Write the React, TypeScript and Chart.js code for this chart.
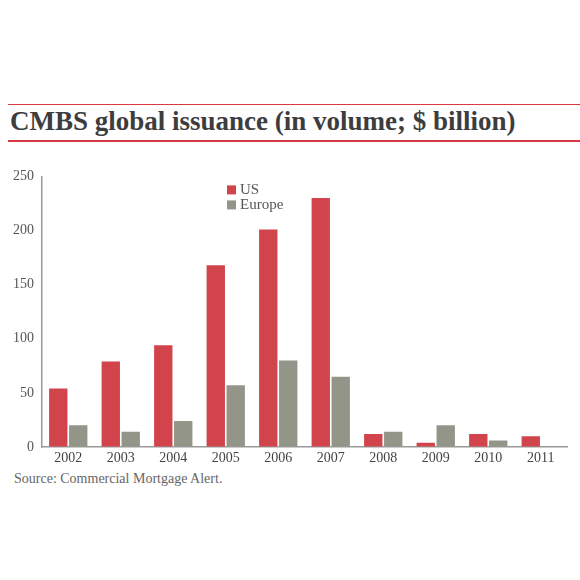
import React, { useEffect, useRef } from "react";
import { Chart, registerables } from "chart.js";

Chart.register(...registerables);

const years = ["2002", "2003", "2004", "2005", "2006", "2007", "2008", "2009", "2010", "2011"];
const usValues = [54, 79, 94, 168, 201, 230, 12, 4, 12, 10];
const europeValues = [20, 14, 24, 57, 80, 65, 14, 20, 6, 0.6];
const yTicks = [0, 50, 100, 150, 200, 250];

const US_COLOR = "#d1444b";
const EU_COLOR = "#939588";
const FONT = "'Liberation Serif', 'Times New Roman', serif";

const legendPlugin = {
  id: "customLegend",
  afterDraw(chart: any) {
    const { ctx, chartArea } = chart;
    const x = chartArea.left + 185;
    let y = chartArea.top + 9;
    ctx.save();
    chart.data.datasets.forEach((ds: any) => {
      ctx.fillStyle = ds.backgroundColor;
      ctx.fillRect(x, y, 9, 9);
      ctx.fillStyle = "#555555";
      ctx.font = `15px ${FONT}`;
      ctx.textBaseline = "middle";
      ctx.textAlign = "left";
      ctx.fillText(ds.label, x + 13, y + 5);
      y += 15;
    });
    ctx.restore();
  },
};

export default function App() {
  const ref = useRef<HTMLCanvasElement | null>(null);

  useEffect(() => {
    document.body.style.margin = "0";
    if (!ref.current) return;
    const chart = new Chart(ref.current, {
      type: "bar",
      data: {
        labels: years,
        datasets: [
          { label: "US", data: usValues, backgroundColor: US_COLOR, categoryPercentage: 0.76, barPercentage: 0.92 },
          { label: "Europe", data: europeValues, backgroundColor: EU_COLOR, categoryPercentage: 0.76, barPercentage: 0.92 },
        ],
      },
      options: {
        animation: false,
        responsive: false,
        maintainAspectRatio: false,
        layout: { padding: { top: 15, right: 13, left: 0, bottom: 0 } },
        plugins: {
          legend: { display: false },
          tooltip: { enabled: false },
          title: { display: false },
        },
        scales: {
          x: {
            grid: { display: true, drawOnChartArea: false, drawTicks: false, tickLength: 0 },
            border: { display: true, color: "#9a9a9a", width: 1.5 },
            ticks: { color: "#444444", font: { family: FONT, size: 14 }, padding: 3, maxRotation: 0 },
            afterFit: (scale: any) => { scale.height = 23; },
          },
          y: {
            min: 0,
            max: 250,
            afterBuildTicks: (scale: any) => { scale.ticks = yTicks.map((v) => ({ value: v })); },
            grid: { display: true, drawOnChartArea: false, drawTicks: false, tickLength: 0 },
            border: { display: true, color: "#9a9a9a", width: 1.5 },
            ticks: { color: "#555555", font: { family: FONT, size: 14 }, padding: 8 },
            afterFit: (scale: any) => { scale.width = 42; },
          },
        },
      },
      plugins: [legendPlugin],
    });
    return () => chart.destroy();
  }, []);

  return (
    <div style={{ position: "relative", width: 580, height: 580, background: "#ffffff", overflow: "hidden" }}>
      <div style={{ position: "absolute", left: 8, right: 0, top: 103.5, height: 1.6, background: "#d83a44" }} />
      <div
        style={{
          position: "absolute",
          left: 10,
          top: 103,
          fontFamily: FONT,
          fontWeight: "bold",
          fontSize: 27,
          lineHeight: "37px",
          color: "#3d3d40",
          whiteSpace: "nowrap",
        }}
      >
        CMBS global issuance (in volume; $ billion)
      </div>
      <div style={{ position: "absolute", left: 8, right: 0, top: 140, height: 1.6, background: "#d83a44" }} />
      <canvas ref={ref} width={580} height={310} style={{ position: "absolute", left: 0, top: 160, width: 580, height: 310 }} />
      <div
        style={{
          position: "absolute",
          left: 14,
          top: 470,
          fontFamily: FONT,
          fontSize: 14,
          lineHeight: "18px",
          color: "#666666",
          whiteSpace: "nowrap",
        }}
      >
        Source: Commercial Mortgage Alert.
      </div>
    </div>
  );
}
